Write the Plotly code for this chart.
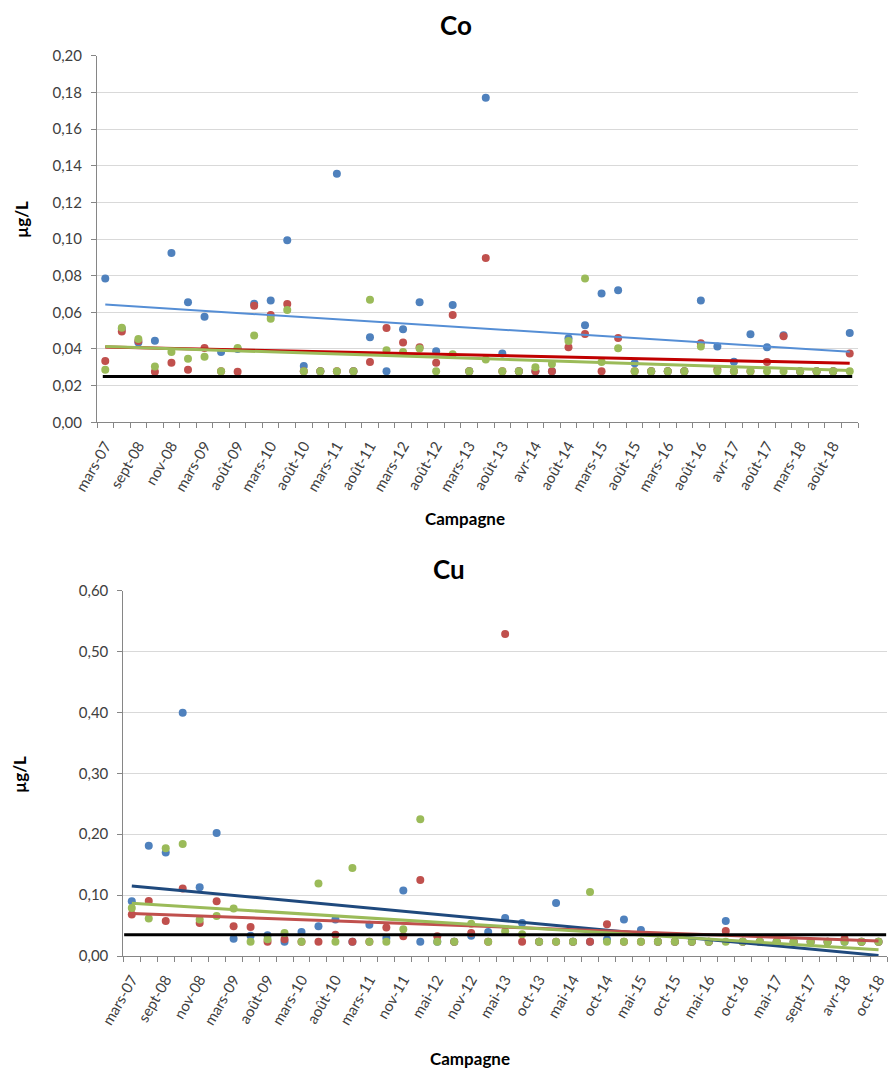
import plotly.graph_objects as go

# ---------------- Co ----------------
co_labels = ["mars-07", "sept-08", "nov-08", "mars-09", "août-09", "mars-10", "août-10",
             "mars-11", "août-11", "mars-12", "août-12", "mars-13", "août-13", "avr-14",
             "août-14", "mars-15", "août-15", "mars-16", "août-16", "avr-17", "août-17",
             "mars-18", "août-18"]
co_blue = [0.0785, 0.051, 0.0436, 0.0445, 0.0924, 0.0655, 0.0576, 0.0384, 0.040, 0.0647,
           0.0664, 0.0993, 0.0307, 0.0278, 0.1356, 0.0278, 0.0464, 0.0278, 0.0507, 0.0655,
           0.0387, 0.064, 0.0278, 0.177, 0.0376, 0.0278, 0.0278, 0.0278, 0.0458, 0.0529,
           0.0702, 0.072, 0.0322, 0.0278, 0.0278, 0.0278, 0.0665, 0.0413, 0.0331, 0.048,
           0.0409, 0.0475, 0.0278, 0.0278, 0.0278, 0.0487]
co_red = [0.0335, 0.0495, 0.0443, 0.0276, 0.0325, 0.0287, 0.0405, 0.0278, 0.0276, 0.0636,
          0.0585, 0.0645, 0.0278, 0.0278, 0.0278, 0.0278, 0.0329, 0.0515, 0.0436, 0.0409,
          0.0325, 0.0585, 0.0278, 0.0896, 0.0278, 0.0278, 0.0278, 0.0278, 0.0409, 0.0482,
          0.0278, 0.046, 0.0278, 0.0278, 0.0278, 0.0278, 0.0431, 0.029, 0.0278, 0.0278,
          0.0329, 0.047, 0.0278, 0.0278, 0.0278, 0.0375]
co_green = [0.0287, 0.0516, 0.0455, 0.0305, 0.0384, 0.0347, 0.0358, 0.0278, 0.0405, 0.0473,
            0.0565, 0.0613, 0.0278, 0.0278, 0.0278, 0.0278, 0.0669, 0.0393, 0.0384, 0.0402,
            0.0278, 0.0371, 0.0278, 0.0342, 0.0278, 0.0278, 0.030, 0.0318, 0.0444, 0.0785,
            0.0329, 0.0404, 0.0278, 0.0278, 0.0278, 0.0278, 0.0413, 0.0278, 0.0278, 0.0278,
            0.0278, 0.0278, 0.0278, 0.0278, 0.0278, 0.0278]
co_trend_blue = [0.0642, 0.0385]
co_trend_red = [0.0411, 0.0322]
co_trend_green = [0.0413, 0.0283]
co_limit = 0.025

# ---------------- Cu ----------------
cu_labels = ["mars-07", "sept-08", "nov-08", "mars-09", "août-09", "mars-10", "août-10",
             "mars-11", "nov-11", "mai-12", "nov-12", "mai-13", "oct-13", "mai-14",
             "oct-14", "mai-15", "oct-15", "mai-16", "oct-16", "mai-17", "sept-17",
             "avr-18", "oct-18"]
cu_blue = [0.0899, 0.181, 0.170, 0.3995, 0.113, 0.202, 0.0285, 0.0334, 0.034, 0.0236,
           0.0395, 0.0488, 0.060, 0.0236, 0.0515, 0.0296, 0.1074, 0.0236, 0.0236, 0.0236,
           0.0334, 0.0395, 0.0625, 0.054, 0.0236, 0.087, 0.0236, 0.0236, 0.027, 0.060,
           0.0427, 0.0236, 0.0236, 0.0236, 0.0236, 0.0575, 0.0236, 0.0236, 0.0236, 0.0236,
           0.0236, 0.0236, 0.0236, 0.0236, 0.0236]
cu_red = [0.068, 0.0904, 0.0575, 0.111, 0.054, 0.0899, 0.0488, 0.0477, 0.0236, 0.0274,
          0.0236, 0.0236, 0.035, 0.0236, 0.0236, 0.047, 0.0323, 0.125, 0.0323, 0.0236,
          0.0378, 0.0236, 0.529, 0.0236, 0.0236, 0.0236, 0.0236, 0.0236, 0.052, 0.0236,
          0.0236, 0.0236, 0.0236, 0.0236, 0.0236, 0.041, 0.0236, 0.0236, 0.0236, 0.0236,
          0.0236, 0.0236, 0.0285, 0.0236, 0.0236]
cu_green = [0.0789, 0.0614, 0.177, 0.184, 0.060, 0.0658, 0.078, 0.0236, 0.0274, 0.0378,
            0.0236, 0.119, 0.0236, 0.1447, 0.0236, 0.0236, 0.0438, 0.2247, 0.0236, 0.0236,
            0.053, 0.0236, 0.0405, 0.0356, 0.0236, 0.0236, 0.0236, 0.105, 0.0236, 0.0236,
            0.0236, 0.0236, 0.0236, 0.0236, 0.0236, 0.0236, 0.0236, 0.0236, 0.0236, 0.0236,
            0.0236, 0.0236, 0.0236, 0.0236, 0.0236]
cu_trend_blue = [0.115, 0.001]
cu_trend_red = [0.070, 0.0247]
cu_trend_green = [0.0866, 0.0104]
cu_limit = 0.035

BLUE = "#4F81BD"
RED = "#C0504D"
GREEN = "#9BBB59"
FONT = "Lato"
W, H = 888, 1071

fig = go.Figure()


def add_panel(xa, ya, blue, red, green, tb, tr, tg, limit, colors_trend, widths_trend, limit_span):
    n = len(blue)
    idx = list(range(n))
    for vals, col in ((blue, BLUE), (red, RED), (green, GREEN)):
        fig.add_trace(go.Scatter(x=idx, y=vals, mode="markers", xaxis=xa, yaxis=ya,
                                 marker=dict(size=8, color=col), showlegend=False,
                                 hoverinfo="y"))
    for tv, col, w in zip((tb, tr, tg), colors_trend, widths_trend):
        fig.add_trace(go.Scatter(x=[0, n - 1], y=tv, mode="lines", xaxis=xa, yaxis=ya,
                                 line=dict(color=col, width=w), showlegend=False,
                                 hoverinfo="skip"))
    fig.add_trace(go.Scatter(x=limit_span(n), y=[limit, limit], mode="lines", xaxis=xa,
                             yaxis=ya, line=dict(color="black", width=3), showlegend=False,
                             hoverinfo="skip"))


add_panel("x", "y", co_blue, co_red, co_green, co_trend_blue, co_trend_red, co_trend_green,
          co_limit, ("#558ED5", "#C00000", GREEN), (2, 3, 3), lambda n: [-0.15, n - 0.85])
add_panel("x2", "y2", cu_blue, cu_red, cu_green, cu_trend_blue, cu_trend_red, cu_trend_green,
          cu_limit, ("#1F497D", "#C0504D", GREEN), (3, 3, 3), lambda n: [-0.45, n - 0.55])


def xaxis_cfg(labels, n, domain, anchor):
    return dict(domain=domain, anchor=anchor, range=[-0.5, n - 0.5], automargin=False,
                tickmode="array", tickvals=list(range(0, 2 * len(labels), 2)), ticktext=labels,
                tickangle=-60, ticks="", showgrid=False, zeroline=False,
                showline=True, linecolor="#868686", linewidth=1,
                tickfont=dict(family=FONT, size=15, color="#404040"),
                ticklabelstandoff=8,
                minor=dict(tickmode="array", tickvals=[i - 0.5 for i in range(n + 1)],
                           ticks="outside", ticklen=5, tickcolor="#868686", showgrid=False))


def yaxis_cfg(rng, dtick, domain, anchor):
    return dict(domain=domain, anchor=anchor, range=rng, dtick=dtick, tick0=0,
                automargin=False,
                tickformat=".2f", ticks="outside", ticklen=5, tickcolor="#868686",
                showline=True, linecolor="#868686", linewidth=1,
                showgrid=True, gridcolor="#D9D9D9", gridwidth=1, zeroline=False,
                tickfont=dict(family=FONT, size=15, color="#404040"),
                ticklabelstandoff=6)


fig.update_layout(
    width=W, height=H, margin=dict(l=0, r=0, t=0, b=0, autoexpand=False),
    paper_bgcolor="white", plot_bgcolor="white", separators=", ",
    xaxis=xaxis_cfg(co_labels, len(co_blue), [97 / W, 858 / W], "y"),
    yaxis=yaxis_cfg([0, 0.2], 0.02, [1 - 422.3 / H, 1 - 55.7 / H], "x"),
    xaxis2=xaxis_cfg(cu_labels, len(cu_blue), [123.3 / W, 887 / W], "y2"),
    yaxis2=yaxis_cfg([0, 0.6], 0.1, [1 - 956 / H, 1 - 590.7 / H], "x2"),
)

ann = [
    ("<b>Co</b>", 456, 25, 26, 0),
    ("<b>Cu</b>", 449, 569, 26, 0),
    ("<b>µg/L</b>", 22, 220, 17, -90),
    ("<b>µg/L</b>", 19, 775, 17, -90),
    ("<b>Campagne</b>", 465, 518, 17, 0),
    ("<b>Campagne</b>", 470, 1058, 17, 0),
]
for text, x, y, size, ang in ann:
    fig.add_annotation(text=text, x=x / W, y=1 - y / H, xref="paper", yref="paper",
                       showarrow=False, textangle=ang, xanchor="center", yanchor="middle",
                       font=dict(family=FONT, size=size, color="black"))

fig.write_html("out.html")
